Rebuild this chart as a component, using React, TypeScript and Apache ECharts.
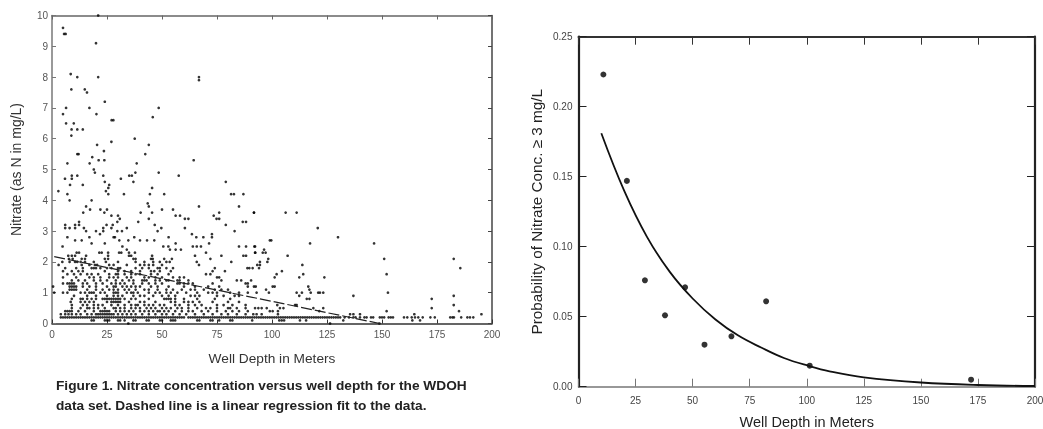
import React, { useEffect, useRef } from "react";
import * as echarts from "echarts";

// Left panel: individual wells, [depth m, nitrate mg/L]
const upperWells = [
  [5,9.6],[5.5,9.4],[6.2,9.4],[21,10],[20,9.1],[8.5,8.1],[11.5,8],[21,8],[66.8,8],[66.8,7.9],[8.8,7.6],[14.9,7.6],[15.9,7.5],[24,7.2],
  [6.4,7],[17,7],[48.5,7],[5,6.8],[20.2,6.8],[45.8,6.7],[27.1,6.6],[27.9,6.6],[6.4,6.5],[9.9,6.5],[8.9,6.3],[11.5,6.3],[14,6.3],[8.8,6.1],
  [37.6,6],[27,5.9],[20.5,5.8],[44,5.8],[23.6,5.6],[11.5,5.5],[12.1,5.5],[42.4,5.5],[18.3,5.4],[21.2,5.3],[23.8,5.3],[64.4,5.3],[7,5.2],
  [17.1,5.2],[38.5,5.2],[19,5],[19.5,4.9],[37.9,4.9],[48.5,4.9],[9,4.8],[9,4.7],[11.5,4.8],[23.3,4.8],[35.1,4.8],[36.3,4.8],[57.6,4.8],[5.9,4.7],[31.3,4.7],
];
const middleWells = [
  [2.9,4.3],[7,4.2],[8.2,4.5],[14,4.5],[8,4],[18,4],[24,4.6],[26,4.5],[25.6,4.4],[24.5,4.3],[25.6,4.2],[32.7,4.2],[37,4.6],[45.5,4.4],[44.5,4.2],[51,4.2],
  [79,4.6],[81.4,4.2],[82.7,4.2],[87,4.2],[85,3.8],[66.8,3.8],[15.5,3.8],[17.3,3.7],[14.2,3.6],[22,3.7],[25,3.7],[23.8,3.6],[27,3.5],[30,3.5],[30.8,3.4],[29.7,3.3],
  [27.6,3.2],[24.8,3.2],[43.5,3.9],[44,3.8],[45.5,3.6],[44,3.4],[40.3,3.6],[39.2,3.3],[50,3.7],[46.7,3.2],[48,3],[49.7,3.1],[55,3.7],[56.2,3.5],[58.2,3.5],[60.4,3.4],[62,3.4],
  [60.4,3.1],[73.5,3.5],[74.8,3.4],[76,3.4],[76,3.6],[79,3.2],[83,3],[86.7,3.3],[88.2,3.3],[91.8,3.6],[12.3,3.3],[12.3,3.2],[10.5,3.2],[10.5,3.1],[6,3.2],[6,3.1],[8,3.1],
  [14.5,3.1],[15.5,3],[20,3],[23.3,3.1],[23.3,3],[21.8,2.9],[27,3.1],[29.7,3],[34,3.1],[31.8,3],[7,2.8],[10.5,2.7],[13.5,2.7],[17,2.8],[18,2.6],[28,2.8],[28.6,2.8],
  [30.6,2.7],[34.7,2.7],[37.4,2.8],[40,2.7],[43.2,2.7],[46.5,2.7],[53,2.8],[24,2.6],[32,2.5],[34,2.4],[4.8,2.5],[63.6,2.9],[65.6,2.8],[68.8,2.8],[72.7,2.9],[72.7,2.8],
  [71.4,2.6],[64,2.5],[65.8,2.5],[67.7,2.5],[85,2.5],[88.2,2.5],[92.3,2.5],[56.2,2.6],[53.6,2.4],[56.2,2.4],[58.6,2.4],[50.6,2.5],[52.9,2.5],
];
const deepWells = [
  [91.8,3.6],[106.2,3.6],[111.2,3.6],[120.8,3.1],[130,2.8],[117.3,2.6],[146.4,2.6],[99,2.7],[99.7,2.7],[92,2.5],[92.4,2.3],[96.4,2.4],[97.1,2.3],[95.8,2.3],[107.1,2.2],
  [98.3,2.1],[97.9,2],[94.5,2],[151,2.1],[182.6,2.1],[185.6,1.8],[113.8,1.9],[93.3,1.9],[94.5,1.9],[91.2,1.8],[94.1,1.8],[104.5,1.7],[102.1,1.6],[101.2,1.5],[114.2,1.6],
  [112.4,1.5],[123.8,1.5],[152.1,1.6],[90.5,1.4],[91.8,1.2],[92.6,1.2],[100.3,1.2],[101.2,1.2],[116.5,1.2],[117,1.1],[97.3,1.1],[117.6,1],[98.6,1],[93,1],[111.2,1],[113.6,1],
  [121,1],[121.8,1],[123.3,1],[152.7,1],[112.4,0.9],[137,0.9],[115.8,0.8],[117,0.8],[172.6,0.8],[182.6,0.9],[182.6,0.6],[172.6,0.5],[185,0.4],[152.1,0.4],[195.2,0.3],[164.7,0.3],
  [135.5,0.3],[137,0.3],[140,0.3],[123.3,0.5],[110.5,0.6],[111.2,0.6],[118.8,0.5],[102.4,0.6],[92.3,0.5],[93.8,0.5],[95.3,0.5],[97.6,0.5],[103.6,0.5],[105.2,0.5],[99,0.4],
  [100.3,0.4],[102.7,0.4],[121.5,0.4],[102.7,0.3],[91.5,0.3],[93,0.3],[95.3,0.3],[91,0.1],[103.3,0.1],[104.4,0.1],[105.5,0.1],[112.7,0.1],[115.5,0.1],[126.4,0],[132.4,0.1],
  [163.8,0.1],[167.3,0.1],[148.8,0],[34.7,0],
];

// Left panel: crowded rows of depths, one array per nitrate level
const at2_3 = [11.2,12.3,21.5,22.6,25.5,30.5,31.5,35,37.7,70,92.3];
const at2_2 = [7.4,9,10.5,15.5,25.5,35,36,45.5,65,77,87,88.2];
const at2_1 = [7.7,9.4,13.5,15,24,25.5,37,38,45,45.8,51,54.5,72];
const at2_0 = [4.7,8,10.5,11.5,13,15,19,24.5,30,38,42,46,49,52,53.5,65.8,81.5];
const at1_9 = [3,13.5,17,19.5,20.5,26,28,34,40,42,44,46,50,66.8];
const at1_8 = [6,11,14,18,19,20,22,25,27,30,31,38,41,44,48,49,52,55,74,88.8,89.7];
const at1_7 = [5,9,12,14,24,30,33,36,40,45,46.5,49,54,73,78.6];
const at1_6 = [7,10,13,16,18,21,26,29,30,33,36,38,40,45,48,53,70,72];
const at1_5 = [5,11,17,19,22,26,28,30,34,36,42,44,47,50,55,58,60,75,76];
const at1_4 = [9,12,15,19,22,25,29,32,35,37,41,42,43,47,49,52,53,57,58,62,77,84,86];
const at1_3 = [5,7,8,9,10,14,16,20,23,27,29,31,33,37,41,44,47,50,57,58,60,62,64,73,88,89];
const at1_2 = [0.5,8,9,10,11,14,17,20,25,28,29,32,34,36,38,40,45,48,53,60,65,71,76,89];
const at1_1 = [8,9,10,11,16,20,23,26,28,30,33,35,38,42,44,48,52,55,59,63,65,69,74,77,80];
const at1_0 = [1,5,7,13,15,17,18,19,22,24,28,29,30,34,36,37,39,44,47,49,52,54,57,61,66,71,73,75,81,85,89];
const at0_9 = [10,16,20,25,28,30,32,37,40,42,46,50,53,56,63,65,67,75,78,83,85];
const at0_8 = [9,13,14,16,18,20,23,24,25,26,27,28,29,30,31,33,36,38,44,51,52,53,54,56,60,66,74,81];
const at0_7 = [8.5,13,15,17,19,25,27,28,29,30,31,35,40,42,47,54,56,60,62,64,67,73,80,85];
const at0_6 = [9,14,16,19,21,23,27,30,33,36,38,39,42,44,46,49,51,56,58,62,65,68,75,78,82,88];
const at0_5 = [9,13,16,17,19,21,24,28,29,31,33,36,38,40,43,45,47,50,52,54,57,59,62,66,70,72,75,80,81,84,88];
const at0_4 = [6,7,8,9,12,15,19,22,23,24,25,26,29,31,33,35,37,40,42,44,46,48,49,51,53,56,59,62,64,68,71,75,79,82,85,89];
const at0_3 = [4,6,7.5,9,11,13,16,18,20,21,22,23,24,25,26,27,28,30,32,34,36,38,41,44,47,50,52,55,58,61,65,69,73,77,80,84,88];
const at0_2 = [4,5,6,7,8,9,10,11,12,13,14,15,16,17,18,19,20,21,22,23,24,25,26,27,28,29,30,31,32,33,34,35,36,37,38,39,40,41,42,43,44,45,46,47,48,49,50,51,52,53,54,55,56,57,58,59,60,62,63,64,65,66,67,68,69,70,71,72,73,74,75,76,77,78,79,80,81,82,83,84,85,86,87,88,89,90,91,92,93,94,95,96,97,98,99,100,101,102,103,104,105,106,107,108,109,110,111,112,113,114,115,116,117,118,119,120,121,122,123,124,125,126,127,128,129,130,131,133,135,137,138,140,142,143,145,146,149,150,151,153,154,155,160,161.5,163.5,165,166.5,168.5,172,174,181,182,182.7,186,188.8,190,191.5];
const at0_1 = [18,19,24,25,26,30,31,33,37,38,43,44,49,50,54,55,56,66,67,72,73,76,81,82];

// Left panel: regression line end points
const regression = [[1,2.17],[149,0]];

// Right panel
const probabilityPoints = [[10.9,0.223],[21.2,0.147],[29.1,0.076],[37.9,0.051],[46.7,0.071],[55.2,0.03],[67,0.036],[82.2,0.061],[101.3,0.015],[172,0.005]];
const probabilityCurve = [[10,0.181],[20,0.14],[30,0.107],[40,0.082],[50,0.063],[60,0.048],[70,0.0365],[80,0.028],[90,0.0205],[101,0.0148],[110,0.011],[125,0.0067],[150,0.003],[175,0.0012],[200,0.0005]];

const captionLines = [
  "Figure 1. Nitrate concentration versus well depth for the WDOH",
  "data set. Dashed line is a linear regression fit to the data.",
];

const row = (level: number, depths: number[]) => depths.map((d) => [d, level]);
const FONT = '"Liberation Sans", Arial, sans-serif';

const App = () => {
  const ref = useRef<HTMLDivElement>(null);
  useEffect(() => {
    const chart = echarts.init(ref.current!, undefined, { renderer: "svg" });
    const wells = [
      ...upperWells, ...middleWells, ...deepWells,
      ...row(2.3, at2_3), ...row(2.2, at2_2), ...row(2.1, at2_1), ...row(2.0, at2_0), ...row(1.9, at1_9), ...row(1.8, at1_8),
      ...row(1.7, at1_7), ...row(1.6, at1_6), ...row(1.5, at1_5), ...row(1.4, at1_4), ...row(1.3, at1_3), ...row(1.2, at1_2),
      ...row(1.1, at1_1), ...row(1.0, at1_0), ...row(0.9, at0_9), ...row(0.8, at0_8), ...row(0.7, at0_7), ...row(0.6, at0_6),
      ...row(0.5, at0_5), ...row(0.4, at0_4), ...row(0.3, at0_3), ...row(0.2, at0_2), ...row(0.1, at0_1),
    ];
    const baseAxis = (color: string, width: number, tick: number, tickW: number) => ({
      axisLine: { show: true, onZero: false, lineStyle: { color, width } },
      axisTick: { show: true, inside: true, length: tick, lineStyle: { color, width: tickW } },
      splitLine: { show: false },
    });
    const lbl = (margin: number, color: string) => ({ show: true, fontFamily: FONT, fontSize: 10, color, margin });
    const nameStyle = (size: number, color: string) => ({ fontFamily: FONT, fontSize: size, color });
    const off = { axisLabel: { show: false } };
    chart.setOption({
      animation: false,
      backgroundColor: "#ffffff",
      grid: [
        { left: 52, top: 15.5, width: 440, height: 308, outerBoundsMode: "none" },
        { left: 578.5, top: 36.7, width: 456.5, height: 350, outerBoundsMode: "none" },
      ],
      xAxis: [
        { type: "value", gridIndex: 0, min: 0, max: 200, interval: 25, position: "bottom", ...baseAxis("#333", 1.5, 4, 1), axisLabel: lbl(6, "#555"),
          name: "Well Depth in Meters", nameLocation: "middle", nameGap: 28, nameTextStyle: nameStyle(13.7, "#333") },
        { type: "value", gridIndex: 0, min: 0, max: 200, interval: 25, position: "top", ...baseAxis("#666", 1.5, 4, 1), ...off },
        { type: "value", gridIndex: 1, min: 0, max: 200, interval: 25, position: "bottom", ...baseAxis("#777", 1.5, 8, 1), axisLabel: lbl(9, "#444"),
          name: "Well Depth in Meters", nameLocation: "middle", nameGap: 28, nameTextStyle: nameStyle(14.5, "#222") },
        { type: "value", gridIndex: 1, min: 0, max: 200, interval: 25, position: "top", ...baseAxis("#333", 2, 8, 1), ...off },
      ],
      yAxis: [
        { type: "value", gridIndex: 0, min: 0, max: 10, interval: 1, position: "left", ...baseAxis("#777", 1.5, 4, 1), axisLabel: lbl(4, "#555"),
          name: "Nitrate (as N in mg/L)", nameLocation: "middle", nameGap: 29, nameTextStyle: nameStyle(14, "#333") },
        { type: "value", gridIndex: 0, min: 0, max: 10, interval: 1, position: "right", ...baseAxis("#444", 1.5, 4, 1), ...off },
        { type: "value", gridIndex: 1, min: 0, max: 0.25, interval: 0.05, position: "left", ...baseAxis("#222", 2.2, 8, 1),
          axisLabel: { ...lbl(6, "#444"), formatter: (v: number) => v.toFixed(2) },
          name: "Probability of Nitrate Conc. ≥ 3 mg/L", nameLocation: "middle", nameGap: 34.5, nameTextStyle: nameStyle(15.3, "#222") },
        { type: "value", gridIndex: 1, min: 0, max: 0.25, interval: 0.05, position: "right", ...baseAxis("#222", 2.2, 8, 1), ...off },
      ],
      series: [
        { type: "scatter", xAxisIndex: 0, yAxisIndex: 0, data: wells, symbol: "circle", symbolSize: 2.7, itemStyle: { color: "#000" }, silent: true },
        { type: "line", xAxisIndex: 0, yAxisIndex: 0, data: regression, symbol: "none", lineStyle: { color: "#222", width: 1.2, type: [11, 3] }, silent: true },
        { type: "scatter", xAxisIndex: 2, yAxisIndex: 2, data: probabilityPoints, symbol: "circle", symbolSize: 6, itemStyle: { color: "#000" }, silent: true },
        { type: "line", xAxisIndex: 2, yAxisIndex: 2, data: probabilityCurve, smooth: 0.4, symbol: "none", lineStyle: { color: "#111", width: 1.8 }, silent: true },
      ],
      graphic: captionLines.map((text, i) => ({
        type: "text",
        left: 56,
        top: 378 + i * 20,
        style: { text, fontFamily: FONT, fontSize: 13.7, fontWeight: "bold", fill: "#222" },
      })),
    });
    return () => chart.dispose();
  }, []);
  return <div ref={ref} style={{ position: "fixed", left: 0, top: 0, width: 1043, height: 429, filter: "blur(0.35px)" }} />;
};

export default App;
